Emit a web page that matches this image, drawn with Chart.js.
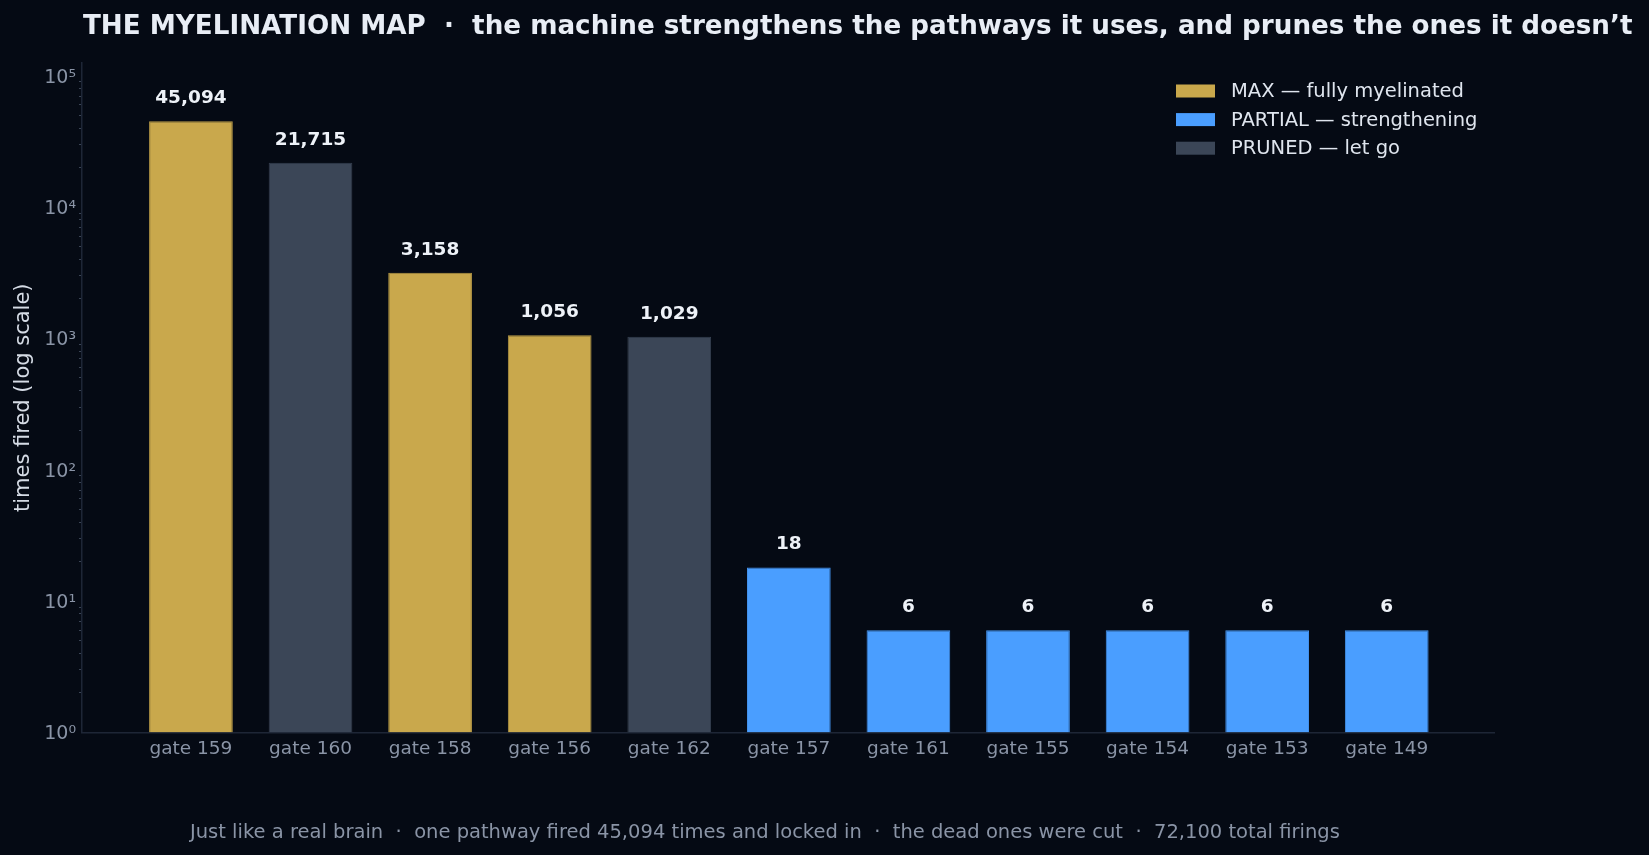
<!DOCTYPE html>
<html>
<head>
<meta charset="utf-8">
<title>The Myelination Map</title>
<script src="https://cdn.jsdelivr.net/npm/chart.js@4.4.1/dist/chart.umd.min.js"></script>
<style>
  html, body { margin: 0; padding: 0; background: #050a14; }
  #wrap { width: 1649px; height: 855px; }
</style>
</head>
<body>
<div id="wrap"><canvas id="mapa" width="1649" height="855"></canvas></div>
<script>
const gates = ['gate 159', 'gate 160', 'gate 158', 'gate 156', 'gate 162', 'gate 157', 'gate 161', 'gate 155', 'gate 154', 'gate 153', 'gate 149'];
const firings = [45094, 21715, 3158, 1056, 1029, 18, 6, 6, 6, 6, 6];
const tiers = ['MAX', 'PRUNED', 'MAX', 'MAX', 'PRUNED', 'PARTIAL', 'PARTIAL', 'PARTIAL', 'PARTIAL', 'PARTIAL', 'PARTIAL'];
const tierOrder = ['MAX', 'PARTIAL', 'PRUNED'];
const tierLabels = ['MAX — fully myelinated', 'PARTIAL — strengthening', 'PRUNED — let go'];
const yTickValues = [1, 10, 100, 1000, 10000, 100000];
const yTickLabels = ['10⁰', '10¹', '10²', '10³', '10⁴', '10⁵'];

const titulo = 'THE MYELINATION MAP  ·  the machine strengthens the pathways it uses, and prunes the ones it doesn’t';
const rodape = 'Just like a real brain  ·  one pathway fired 45,094 times and locked in  ·  the dead ones were cut  ·  72,100 total firings';

// estilos
const cores = { MAX: '#c9a84c', PARTIAL: '#4a9eff', PRUNED: '#3b4657' };
const bordas = { MAX: '#b89a45', PARTIAL: '#4391ec', PRUNED: '#364050' };
const FONTE = '"DejaVu Sans", sans-serif';

const textos = {
  id: 'textos',
  afterDatasetsDraw(chart) {
    const ctx = chart.ctx;
    const meta = chart.getDatasetMeta(0);
    ctx.save();
    ctx.fillStyle = '#eef2f8';
    ctx.font = 'bold 18.5px ' + FONTE;
    ctx.textAlign = 'center';
    ctx.textBaseline = 'middle';
    meta.data.forEach((barra, i) => {
      ctx.fillText(firings[i].toLocaleString('en-US'), barra.x, barra.y - 23);
    });
    ctx.restore();
  },
  afterDraw(chart) {
    const ctx = chart.ctx;
    ctx.save();
    // titulo
    ctx.fillStyle = '#e8edf5';
    ctx.font = 'bold 26.2px ' + FONTE;
    ctx.textAlign = 'left';
    ctx.textBaseline = 'alphabetic';
    ctx.fillText(titulo, 83, 34);

    // legenda
    ctx.font = '19.5px ' + FONTE;
    ctx.textBaseline = 'middle';
    tierOrder.forEach((t, i) => {
      const y = 91 + i * 28.6;
      ctx.fillStyle = cores[t];
      ctx.fillRect(1176, y - 6.5, 39, 13);
      ctx.fillStyle = '#dfe5ee';
      ctx.fillText(tierLabels[i], 1231, y + 1);
    });

    // rodape
    ctx.fillStyle = '#8a94a6';
    ctx.font = '19.5px ' + FONTE;
    ctx.textBaseline = 'alphabetic';
    ctx.fillText(rodape, 190, 838);
    ctx.restore();
  }
};

const ctx = document.getElementById('mapa').getContext('2d');
const chart = new Chart(ctx, {
  type: 'bar',
  data: {
    datasets: [{
      label: 'times fired',
      data: firings.map((v, i) => ({ x: i, y: v })),
      backgroundColor: tiers.map(t => cores[t]),
      borderColor: tiers.map(t => bordas[t]),
      borderWidth: 1,
      barPercentage: 1,
      categoryPercentage: 0.7
    }]
  },
  options: {
    responsive: false,
    animation: false,
    devicePixelRatio: 1,
    layout: { padding: { top: 63, right: 155, bottom: 0, left: 0 } },
    plugins: {
      legend: { display: false },
      tooltip: { enabled: false }
    },
    scales: {
      x: {
        type: 'linear',
        offset: false,
        min: -0.911,
        max: 10.897,
        afterBuildTicks: scale => { scale.ticks = gates.map((_, i) => ({ value: i })); },
        afterFit: scale => { scale.height = 122.5; },
        grid: { display: false, drawTicks: false },
        border: { display: true, color: '#1e2636', width: 1.5 },
        ticks: {
          autoSkip: false,
          maxRotation: 0,
          padding: 6,
          color: '#8a94a6',
          font: { family: FONTE, size: 18.5 },
          callback: v => gates[v] ?? ''
        }
      },
      y: {
        type: 'logarithmic',
        min: 1,
        max: 125000,
        afterBuildTicks: scale => {
          const t = [];
          for (let e = 0; e <= 5; e++) {
            for (let k = 1; k <= 9; k++) {
              const v = k * Math.pow(10, e);
              if (v <= scale.max) t.push({ value: v, major: k === 1 });
            }
          }
          scale.ticks = t;
        },
        afterFit: scale => { scale.width = 82; },
        grid: {
          drawOnChartArea: false,
          drawTicks: true,
          tickLength: 3,
          tickColor: c => (c.tick && yTickValues.includes(c.tick.value)) ? 'rgba(0,0,0,0)' : '#3a4455'
        },
        border: { display: true, color: '#1e2636', width: 1.5 },
        ticks: {
          autoSkip: false,
          padding: 3,
          labelOffset: 2,
          color: '#8a94a6',
          font: { family: FONTE, size: 19 },
          callback: v => {
            const i = yTickValues.indexOf(v);
            return i >= 0 ? yTickLabels[i] : '';
          }
        },
        title: {
          display: true,
          text: 'times fired (log scale)',
          color: '#d5dbe5',
          font: { family: FONTE, size: 21 },
          padding: { top: 11, bottom: 0 }
        }
      }
    }
  },
  plugins: [textos]
});
</script>
</body>
</html>
